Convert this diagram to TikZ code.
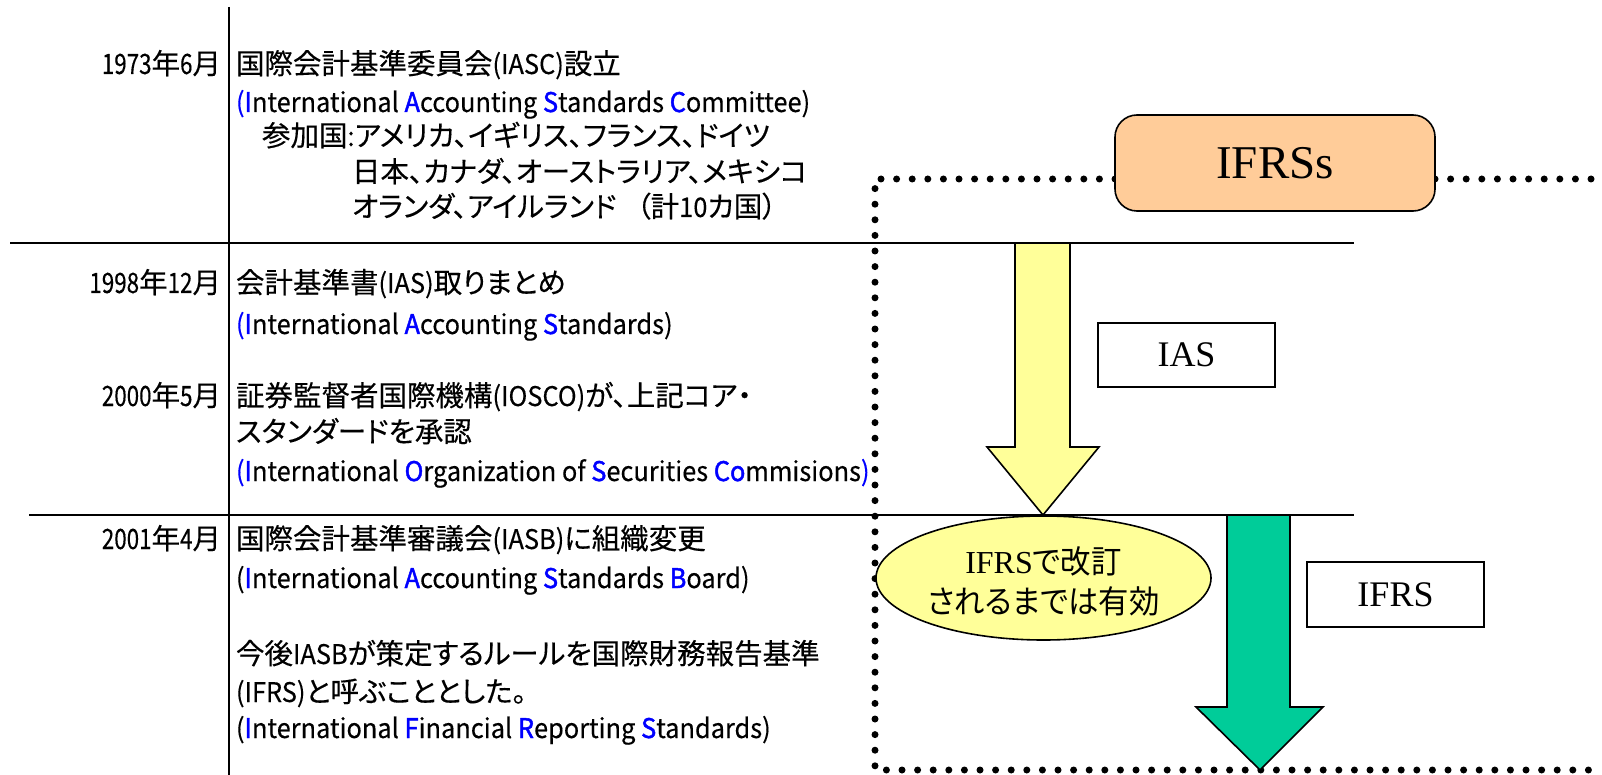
\documentclass[tikz,border=0pt]{standalone}
\usepackage{fontspec}
\usetikzlibrary{shapes.geometric}
% CJK text with proportional kana, Latin runs narrower
\newfontfamily\jp[RawFeature=+palt,FakeBold=0.3]{Noto Sans CJK JP}
\newfontfamily\lat[FakeStretch=0.94,FakeBold=0.3]{Noto Sans CJK JP}
\newfontfamily\dig[FakeStretch=0.8,FakeBold=0.3]{Noto Sans CJK JP}
\newfontfamily\latbold[FakeStretch=0.94,FakeBold=1.6]{Noto Sans CJK JP}
\newfontfamily\jpe[FakeStretch=0.95,RawFeature=+palt]{Noto Sans CJK JP}
\newfontfamily\ser{Liberation Serif}
\definecolor{acblue}{RGB}{0,0,255}
\definecolor{peach}{RGB}{255,204,153}
\definecolor{paleyellow}{RGB}{255,255,153}
\definecolor{seagreen}{RGB}{0,204,153}
% initial letters of an abbreviation
\newcommand\ini[1]{{\latbold\color{acblue}#1}}
\newcommand\bpar[1]{{\color{acblue}#1}}
\newcommand\la[1]{{\lat\fontsize{27}{32}\selectfont #1}}
\newcommand\num[1]{{\dig\fontsize{28}{32}\selectfont #1}}
\begin{document}
\begin{tikzpicture}[x=1pt,y=-1pt,
  every node/.style={inner sep=0pt,outer sep=0pt},
  date/.style={anchor=base east,font=\jp\fontsize{28.5}{32}\selectfont},
  txt/.style={anchor=base west,font=\jp\fontsize{28.5}{32}\selectfont},
  ltxt/.style={anchor=base west,font=\lat\fontsize{27}{32}\selectfont},
  rule/.style={line width=2pt},
  dotline/.style={line width=7pt,line cap=round,dash pattern=on 0pt off 15.6pt},
  namebox/.style={draw,line width=2pt,fill=white,font=\ser\fontsize{36}{40}\selectfont},
  bigarrow/.style={draw,line width=1.6pt,line join=miter}]
\useasboundingbox (0,0) rectangle (1602,775);

% timeline rules
\coordinate (vtop) at (229,7);
\coordinate (vbot) at (229,775);
\coordinate (h1a) at (10,243);
\coordinate (h1b) at (1354,243);
\coordinate (h2a) at (29,515);
\coordinate (h2b) at (1354,515);
\draw[rule,line width=2.4pt] (vtop) -- (vbot);
\draw[rule] (h1a) -- (h1b);
\draw[rule] (h2a) -- (h2b);

% dates
\node[date] (d1) at (221,74)  {\num{1973}年\num{6}月};
\node[date] (d2) at (221,293) {\num{1998}年\num{12}月};
\node[date] (d3) at (221,406) {\num{2000}年\num{5}月};
\node[date] (d4) at (221,549) {\num{2001}年\num{4}月};

% 1973
\node[txt] (a1) at (236,74)  {国際会計基準委員会\la{(IASC)}設立};
\node[ltxt] (a2) at (236,112) {\bpar{(}\ini{I}nternational \ini{A}ccounting \ini{S}tandards \ini{C}ommittee)};
\node[txt] (a3) at (262,146) {参加国\la{:}アメリカ、イギリス、フランス、ドイツ};
\node[txt] (a4) at (352,182) {日本、カナダ、オーストラリア、メキシコ};
\node[txt] (a5) at (352,217) {オランダ、アイルランド\hspace{20pt}（計\la{10}カ国）};

% 1998 / 2000
\node[txt] (b1) at (236,293) {会計基準書\la{(IAS)}取りまとめ};
\node[ltxt] (b2) at (236,334) {\bpar{(}\ini{I}nternational \ini{A}ccounting \ini{S}tandards)};
\node[txt] (c1) at (236,406) {証券監督者国際機構\la{(IOSCO)}が、上記コア・};
\node[txt] (c2) at (236,442) {スタンダードを承認};
\node[ltxt] (c3) at (236,481) {\bpar{(}\ini{I}nternational \ini{O}rganization of \ini{S}ecurities \ini{Co}mmisions\bpar{)}};

% 2001
\node[txt] (e1) at (236,549) {国際会計基準審議会\la{(IASB)}に組織変更};
\node[ltxt] (e2) at (236,588) {(\ini{I}nternational \ini{A}ccounting \ini{S}tandards \ini{B}oard)};
\node[txt] (e3) at (236,664) {今後\la{IASB}が策定するルールを国際財務報告基準};
\node[txt] (e4) at (236,702) {\la{(IFRS)}と呼ぶこととした。};
\node[ltxt] (e5) at (236,738) {(\ini{I}nternational \ini{F}inancial \ini{R}eporting \ini{S}tandards)};

% IFRSs frame
\node[minimum width=320,minimum height=96] (ifrss) at (1275,163) {};
\coordinate (dtl) at (875,179);
\coordinate (dbl) at (875,770);
\coordinate (dbr) at (1602,770);
\coordinate (dtr) at (1602,179);
\draw[dotline] (ifrss.west |- dtl) -- (dtl) -- (dbl) -- (dbr);
\draw[dotline] (ifrss.east |- dtr) -- (dtr);
\node[draw,line width=1.6pt,rounded corners=22pt,fill=peach,
      minimum width=320,minimum height=96,
      font=\ser\fontsize{47}{50}\selectfont] (ifrssbox) at (ifrss) {IFRSs};

% IAS arrow
\draw[bigarrow,fill=paleyellow] (1015,243) -- (1070,243) -- (1070,447) -- (1099,447)
  -- (1043,515) -- (987,447) -- (1015,447) -- cycle;
\node[namebox,minimum width=177,minimum height=64] (ias) at (1186.5,355) {IAS};

% IFRS arrow
\draw[bigarrow,fill=seagreen] (1227,515) -- (1290,515) -- (1290,707) -- (1323,707)
  -- (1260,770) -- (1196,707) -- (1227,707) -- cycle;
\node[namebox,minimum width=177,minimum height=65] (ifrs) at (1395.5,594.5) {IFRS};

% validity note
\node[ellipse,draw,line width=1.6pt,fill=paleyellow,
      minimum width=335,minimum height=124] (valid) at (1043.5,578) {};
\node[align=center,font=\jpe\fontsize{32}{40}\selectfont] (validtxt) at (1043.5,581)
  {{\ser IFRS}で改訂\\されるまでは有効};
\end{tikzpicture}
\end{document}
